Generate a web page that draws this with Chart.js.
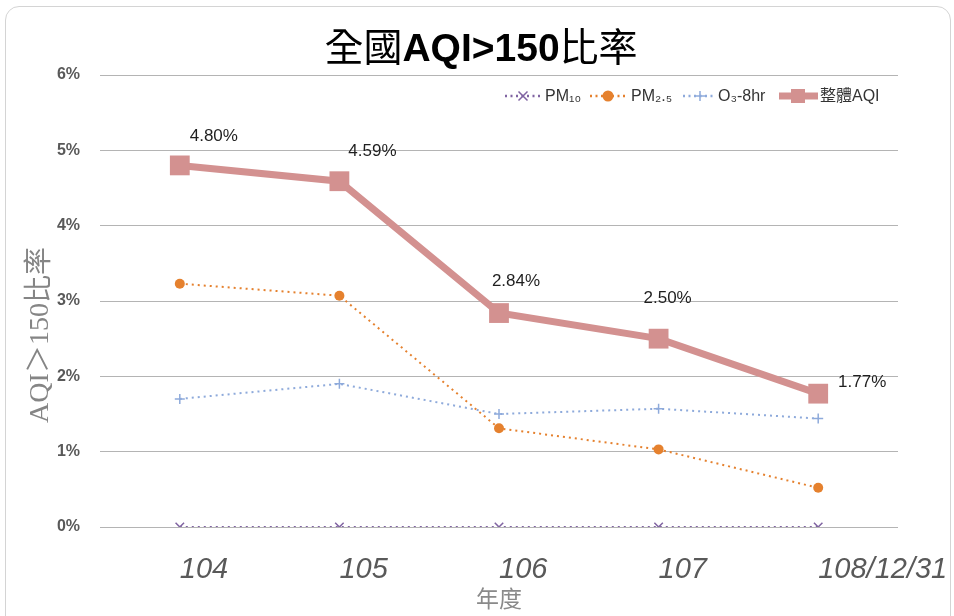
<!DOCTYPE html>
<html>
<head>
<meta charset="utf-8">
<script src="https://cdn.jsdelivr.net/npm/chart.js@4"></script>
<style>
  html, body { margin: 0; padding: 0; background: #ffffff; overflow: hidden; }
  #wrap { position: relative; width: 954px; height: 616px; }
  #frame {
    position: absolute; left: 5px; top: 6px; width: 944px; height: 640px;
    border: 1px solid #d4d4d4; border-radius: 14px; background: #ffffff;
  }
  #chart { position: absolute; left: 0; top: 0; }
</style>
</head>
<body>
<div id="wrap">
  <div id="frame"></div>
  <canvas id="chart" width="954" height="616"></canvas>
</div>
<script>
// Years (ROC calendar) on the category axis
const categories = ['104', '105', '106', '107', '108/12/31'];
// Share of days with AQI > 150, in percent
const pm10Values = [0, 0, 0, 0, 0];
const pm25Values = [3.23, 3.07, 1.31, 1.03, 0.52];
const o3Values   = [1.70, 1.90, 1.50, 1.57, 1.44];
const aqiValues  = [4.80, 4.59, 2.84, 2.50, 1.77];
// Value-axis ticks (percent)
const yTickValues = [0, 1, 2, 3, 4, 5, 6];

const seriesNames = ['PM₁₀', 'PM₂.₅', 'O₃-8hr', '整體AQI'];

const COLORS = {
  pm10: '#8064a2',
  pm25: '#e5812e',
  o3:   '#8eaadb',
  aqi:  '#d39190',
  grid: '#b4b4b4',
  tick: '#595959'
};

const LATIN = "'Liberation Sans', 'Noto Sans CJK TC', sans-serif";
const CJK = "'Noto Sans CJK TC', 'Liberation Sans', sans-serif";

// Offsets of each overall-AQI value label from its marker
const labelOffsets = [[34, -29], [33, -30], [17, -32], [9, -40], [44, -11]];

const overlay = {
  id: 'overlay',
  afterDraw(chart) {
    const ctx = chart.ctx;
    ctx.save();

    // Title: mixed weights
    const parts = [
      { t: '全國', f: '400 39px ' + CJK },
      { t: 'AQI>150', f: '700 39px ' + LATIN },
      { t: '比率', f: '400 39px ' + CJK }
    ];
    let total = 0;
    parts.forEach(p => { ctx.font = p.f; p.w = ctx.measureText(p.t).width; total += p.w; });
    let x = 481 - total / 2;
    ctx.fillStyle = '#000000';
    ctx.textBaseline = 'alphabetic';
    ctx.textAlign = 'left';
    parts.forEach(p => { ctx.font = p.f; ctx.fillText(p.t, x, 61); x += p.w; });

    // Value-axis title (rotated)
    ctx.save();
    ctx.translate(41, 335);
    ctx.rotate(-Math.PI / 2);
    ctx.font = "400 28px 'Liberation Serif', 'DejaVu Serif', 'Noto Sans CJK TC', serif";
    ctx.fillStyle = '#858585';
    ctx.textAlign = 'center';
    ctx.textBaseline = 'middle';
    ctx.fillText('AQI＞150比率', 0, 0);
    ctx.restore();

    // Category-axis title
    ctx.font = '400 23px ' + CJK;
    ctx.fillStyle = '#8a8a8a';
    ctx.textAlign = 'center';
    ctx.textBaseline = 'middle';
    ctx.fillText('年度', 499, 598);

    // Data labels on the overall AQI series
    const meta = chart.getDatasetMeta(0);
    ctx.font = '400 17px ' + LATIN;
    ctx.fillStyle = '#1f1f1f';
    meta.data.forEach((pt, i) => {
      const o = labelOffsets[i];
      ctx.fillText(aqiValues[i].toFixed(2) + '%', pt.x + o[0], pt.y + o[1]);
    });

    // Legend
    const ly = 96;
    const items = [
      { name: seriesNames[0], color: COLORS.pm10, x0: 505, mx: 523, x1: 540, tx: 545, style: 'crossRot', dash: true },
      { name: seriesNames[1], color: COLORS.pm25, x0: 590, mx: 608, x1: 627, tx: 631, style: 'circle', dash: true },
      { name: seriesNames[2], color: COLORS.o3,   x0: 683, mx: 700, x1: 714, tx: 718, style: 'cross', dash: true },
      { name: seriesNames[3], color: COLORS.aqi,  x0: 779, mx: 798, x1: 818, tx: 820, style: 'rect', dash: false }
    ];
    items.forEach(it => {
      ctx.strokeStyle = it.color;
      ctx.fillStyle = it.color;
      if (it.dash) {
        ctx.lineWidth = 2.5;
        ctx.setLineDash([2, 3.5]);
      } else {
        ctx.lineWidth = 7;
        ctx.setLineDash([]);
      }
      ctx.beginPath();
      ctx.moveTo(it.x0, ly);
      ctx.lineTo(it.x1, ly);
      ctx.stroke();
      ctx.setLineDash([]);
      ctx.lineWidth = 1.5;
      const mx = it.mx;
      if (it.style === 'crossRot') {
        ctx.beginPath();
        ctx.moveTo(mx - 4.5, ly - 4.5); ctx.lineTo(mx + 4.5, ly + 4.5);
        ctx.moveTo(mx - 4.5, ly + 4.5); ctx.lineTo(mx + 4.5, ly - 4.5);
        ctx.stroke();
      } else if (it.style === 'circle') {
        ctx.beginPath();
        ctx.arc(mx, ly, 5.5, 0, Math.PI * 2);
        ctx.fill();
      } else if (it.style === 'cross') {
        ctx.beginPath();
        ctx.moveTo(mx - 5, ly); ctx.lineTo(mx + 5, ly);
        ctx.moveTo(mx, ly - 5); ctx.lineTo(mx, ly + 5);
        ctx.stroke();
      } else {
        ctx.fillRect(mx - 7, ly - 7, 14, 14);
      }
      ctx.font = '400 16px ' + LATIN;
      ctx.fillStyle = '#333333';
      ctx.textAlign = 'left';
      ctx.textBaseline = 'middle';
      ctx.fillText(it.name, it.tx, ly + 1);
    });

    ctx.restore();
  }
};

new Chart(document.getElementById('chart'), {
  type: 'line',
  data: {
    labels: categories,
    datasets: [
      {
        label: seriesNames[3],
        data: aqiValues,
        borderColor: COLORS.aqi,
        backgroundColor: COLORS.aqi,
        borderWidth: 7,
        pointStyle: 'rect',
        pointRadius: 14,
        pointHoverRadius: 14,
        pointBorderWidth: 0,
        tension: 0,
        order: 0
      },
      {
        label: seriesNames[1],
        data: pm25Values,
        borderColor: COLORS.pm25,
        backgroundColor: COLORS.pm25,
        borderWidth: 2,
        borderDash: [2, 4],
        pointStyle: 'circle',
        pointRadius: 5,
        pointBorderWidth: 0,
        tension: 0,
        order: 1
      },
      {
        label: seriesNames[2],
        data: o3Values,
        borderColor: COLORS.o3,
        backgroundColor: COLORS.o3,
        borderWidth: 2,
        borderDash: [2, 4],
        pointStyle: 'cross',
        pointRadius: 5,
        pointBorderWidth: 1.5,
        tension: 0,
        order: 2
      },
      {
        label: seriesNames[0],
        data: pm10Values,
        borderColor: COLORS.pm10,
        backgroundColor: COLORS.pm10,
        borderWidth: 2,
        borderDash: [2, 4],
        pointStyle: 'crossRot',
        pointRadius: 6,
        pointBorderWidth: 1.5,
        tension: 0,
        order: 3
      }
    ]
  },
  options: {
    responsive: false,
    animation: false,
    events: [],
    layout: { padding: { top: 75, right: 56, left: 0, bottom: 0 } },
    plugins: {
      legend: { display: false },
      title: { display: false },
      tooltip: { enabled: false }
    },
    scales: {
      x: {
        type: 'category',
        offset: true,
        grid: { display: false, drawTicks: false },
        border: { display: false },
        afterFit(scale) {
          scale.height = 89;
          scale.paddingLeft = 0;
          scale.paddingRight = 0;
        },
        ticks: {
          align: 'start',
          autoSkip: false,
          maxRotation: 0,
          minRotation: 0,
          padding: 26,
          color: '#595959',
          font: { family: "'Liberation Sans', sans-serif", size: 29, style: 'italic', weight: '400' }
        }
      },
      y: {
        min: 0,
        max: 6,
        afterFit(scale) { scale.width = 100; },
        afterBuildTicks(scale) { scale.ticks = yTickValues.map(v => ({ value: v })); },
        grid: { color: COLORS.grid, lineWidth: 1, drawTicks: false },
        border: { display: false },
        ticks: {
          padding: 20,
          color: COLORS.tick,
          font: { family: "'Liberation Sans', sans-serif", size: 16, weight: '700' },
          callback: v => v + '%'
        }
      }
    }
  },
  plugins: [overlay]
});
</script>
</body>
</html>
